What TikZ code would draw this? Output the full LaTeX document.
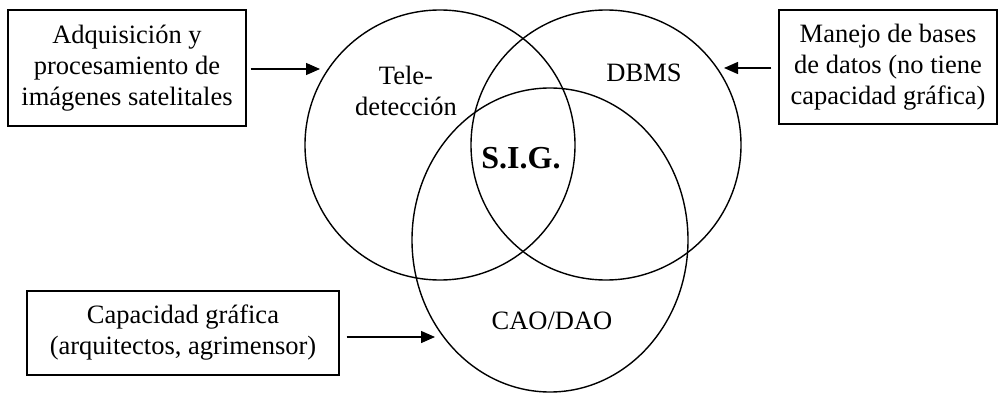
\documentclass[tikz,border=0pt]{standalone}
\usepackage{fontspec}
\setmainfont{Liberation Serif}
\usetikzlibrary{arrows.meta,shapes.geometric}
\tikzset{
  ring/.style={draw=black, line width=1.4pt, circle, minimum size=270pt, inner sep=0pt},
  ringb/.style={draw=black, line width=1.4pt, ellipse, minimum width=276pt, minimum height=304pt, inner sep=0pt},
  infobox/.style={draw=black, line width=1.4pt, rectangle, align=center, inner sep=0pt,
    font=\fontsize{26.5pt}{31pt}\selectfont},
  lbl/.style={align=center, inner sep=0pt, font=\fontsize{26.5pt}{31pt}\selectfont},
  feed/.style={line width=1.4pt, -{Triangle[length=14pt,width=12pt]}}
}
\begin{document}
\begin{tikzpicture}[x=1pt,y=-1pt]
\useasboundingbox (0,0) rectangle (998,393);
% circles
\node[ring] (tele) at (440,145) {};
\node[ring] (dbms) at (606,145) {};
\node[ringb] (cao) at (550,240) {};
% labels
\node[lbl] (tl) at (406,91) {Tele-\\detección};
\node[lbl] (dl) at (644,73) {DBMS};
\node[lbl, font=\fontsize{32pt}{38pt}\selectfont\bfseries] (sig) at (521,158) {S.I.G.};
\node[lbl] (cl) at (552,321) {CAO/DAO};
% boxes
\node[infobox, minimum width=238pt, minimum height=116pt] (b1) at (127,68)
  {Adquisición y\\procesamiento de\\imágenes satelitales};
\node[infobox, minimum width=218pt, minimum height=114pt] (b2) at (888,67)
  {Manejo de bases\\de datos (no tiene\\capacidad gráfica)};
\node[infobox, minimum width=312pt, minimum height=84pt] (b3) at (183,333)
  {Capacidad gráfica\\(arquitectos, agrimensor)};
% arrow tips
\coordinate (t1) at (320,69);
\coordinate (t2) at (724,68);
\coordinate (t3) at (435,337);
\draw[feed] ([xshift=4pt]b1.east |- t1) -- (t1);
\draw[feed] ([xshift=-7pt]b2.west |- t2) -- (t2);
\draw[feed] ([xshift=7pt]b3.east |- t3) -- (t3);
\end{tikzpicture}
\end{document}
